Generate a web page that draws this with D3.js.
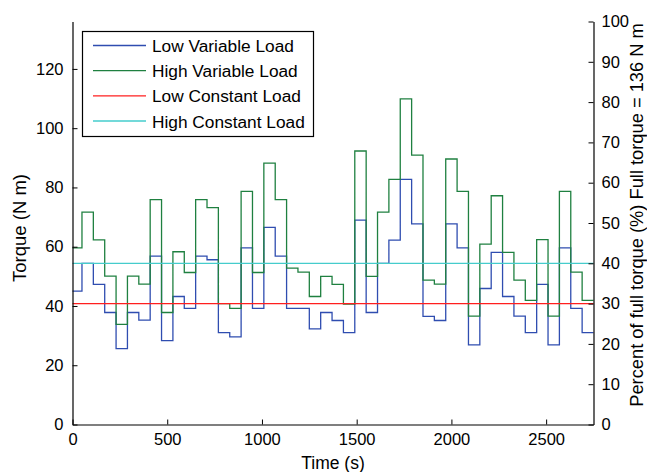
<!DOCTYPE html>
<html>
<head>
<meta charset="utf-8">
<script src="https://cdn.jsdelivr.net/npm/d3@7"></script>
<style>
  body { margin: 0; background: #fff; }
  text { font-family: "Liberation Sans", Arial, sans-serif; fill: #000; }
</style>
</head>
<body>
<svg id="chart" width="647" height="472"></svg>
<script>
// step start times (s), last step runs to the end of the axis
const stepTimes = [0, 50, 110, 170, 230, 290, 350, 410, 470, 530, 590, 650, 710, 770, 830, 890,
    950, 1010, 1070, 1130, 1190, 1250, 1310, 1370, 1430, 1490, 1550, 1610, 1670, 1730, 1790,
    1850, 1910, 1970, 2030, 2090, 2150, 2210, 2270, 2330, 2390, 2450, 2510, 2570, 2630, 2690];
const endTime = 2750;

const lowVariable = [45, 54.4, 47.3, 37.8, 25.6, 37.8, 35.2, 56.8, 28.3, 43.2, 39.2, 56.8, 55.6,
    31.0, 29.6, 59.6, 39.2, 66.5, 56.8, 39.2, 39.2, 32.3, 37.8, 35.1, 31.0, 69.0, 37.8, 54.4,
    62.2, 82.7, 67.7, 36.5, 35.1, 67.7, 59.6, 26.9, 45.9, 58.1, 43.2, 36.6, 31.0, 47.3, 26.9,
    59.6, 39.2, 31.0];
const highVariable = [59.6, 71.7, 62.3, 50.1, 33.8, 50.1, 47.4, 75.9, 37.8, 58.3, 51.3, 75.9, 73.2,
    40.8, 39.2, 78.7, 51.3, 88.2, 75.9, 52.8, 51.4, 43.2, 50.0, 47.3, 40.6, 92.3, 50.0, 71.7,
    82.7, 109.9, 90.9, 48.7, 47.4, 89.6, 78.7, 36.6, 60.9, 77.2, 58.1, 48.7, 41.9, 62.4, 36.6,
    78.7, 51.4, 41.9];
const lowConstant = 40.8;
const highConstant = 54.4;
const fullTorque = 136;

const seriesNames = ["Low Variable Load", "High Variable Load", "Low Constant Load", "High Constant Load"];
const seriesColors = ["#2f4db0", "#1f8040", "#ff1f1f", "#45cccc"];

const xTicks = [0, 500, 1000, 1500, 2000, 2500];
const yTicks = [0, 20, 40, 60, 80, 100, 120];
const pctTicks = [0, 10, 20, 30, 40, 50, 60, 70, 80, 90, 100];

const svg = d3.select("#chart");
const plotL = 72.5, plotR = 593.5, plotT = 21.5, plotB = 424.5;

const x = d3.scaleLinear().domain([0, endTime]).range([plotL, plotR]);
const y = d3.scaleLinear().domain([0, fullTorque]).range([plotB, plotT]);
const yPct = d3.scaleLinear().domain([0, 100]).range([plotB, plotT]);

const toSteps = vals => {
    const pts = stepTimes.map((t, i) => [t, vals[i]]);
    pts.push([endTime, vals[vals.length - 1]]);
    return pts;
};

const series = [
    toSteps(lowVariable),
    toSteps(highVariable),
    [[0, lowConstant], [endTime, lowConstant]],
    [[0, highConstant], [endTime, highConstant]]
];

const line = d3.line()
    .x(d => x(d[0]))
    .y(d => y(d[1]))
    .curve(d3.curveStepAfter);

svg.append("g")
    .selectAll("path")
    .data(series)
    .join("path")
    .attr("d", line)
    .attr("fill", "none")
    .attr("stroke", (d, i) => seriesColors[i])
    .attr("stroke-width", 1.3);

// axes, MATLAB style inward ticks
const styleAxis = g => {
    g.select(".domain").attr("stroke", "#000").attr("stroke-width", 1.2);
    g.selectAll(".tick line").attr("stroke", "#000");
    g.selectAll(".tick text").attr("font-size", 16.5).attr("font-family", "Liberation Sans, Arial, sans-serif");
};

svg.append("g")
    .attr("transform", `translate(0,${plotB})`)
    .call(d3.axisBottom(x).tickValues(xTicks).tickFormat(d3.format("d"))
        .tickSizeInner(-5).tickSizeOuter(0).tickPadding(9))
    .call(styleAxis);

svg.append("g")
    .attr("transform", `translate(${plotL},0)`)
    .call(d3.axisLeft(y).tickValues(yTicks).tickSizeInner(-5).tickSizeOuter(0).tickPadding(9))
    .call(styleAxis);

svg.append("g")
    .attr("transform", `translate(${plotR},0)`)
    .call(d3.axisRight(yPct).tickValues(pctTicks).tickSizeInner(-5).tickSizeOuter(0).tickPadding(8))
    .call(styleAxis);

svg.append("text")
    .attr("x", (plotL + plotR) / 2)
    .attr("y", 469)
    .attr("text-anchor", "middle")
    .attr("font-size", 17.5)
    .text("Time (s)");

svg.append("text")
    .attr("transform", `translate(26,${(plotT + plotB) / 2 + 5}) rotate(-90)`)
    .attr("text-anchor", "middle")
    .attr("font-size", 18.5)
    .text("Torque (N m)");

svg.append("text")
    .attr("transform", `translate(643,215) rotate(-90)`)
    .attr("text-anchor", "middle")
    .attr("font-size", 18.3)
    .text("Percent of full torque (%) Full torque = 136 N m");

// legend
const legend = svg.append("g");
legend.append("rect")
    .attr("x", 82.5).attr("y", 31.5)
    .attr("width", 231).attr("height", 105)
    .attr("fill", "#fff")
    .attr("stroke", "#000")
    .attr("stroke-width", 1.2);

const legendY = d3.scalePoint().domain(seriesNames).range([45.5, 121]);

const items = legend.selectAll("g.item")
    .data(seriesNames)
    .join("g")
    .attr("class", "item")
    .attr("transform", d => `translate(0,${legendY(d)})`);

items.append("line")
    .attr("x1", 93).attr("x2", 146)
    .attr("stroke", (d, i) => seriesColors[i])
    .attr("stroke-width", 1.3);

items.append("text")
    .attr("x", 152)
    .attr("y", 6.5)
    .attr("font-size", 17.3)
    .text(d => d);
</script>
</body>
</html>
